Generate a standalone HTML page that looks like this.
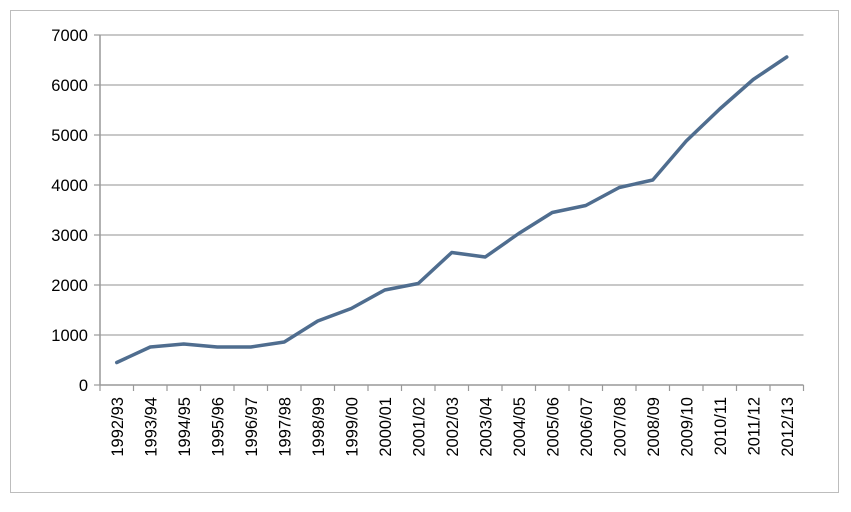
<!DOCTYPE html>
<html><head><meta charset="utf-8"><style>
body{margin:0;background:#fff;font-family:"Liberation Sans",sans-serif}
</style></head><body>
<svg id="c" width="851" height="507" xmlns="http://www.w3.org/2000/svg">
<rect x="10.5" y="10.5" width="828" height="482" fill="#fff" stroke="#bdbdbd"/>
</svg>
<script>
const categories=["1992/93","1993/94","1994/95","1995/96","1996/97","1997/98","1998/99","1999/00","2000/01","2001/02","2002/03","2003/04","2004/05","2005/06","2006/07","2007/08","2008/09","2009/10","2010/11","2011/12","2012/13"];
const values=[450,760,820,760,760,860,1280,1530,1900,2030,2650,2560,3030,3450,3590,3950,4100,4880,5520,6110,6560];
const yTicks=[0,1000,2000,3000,4000,5000,6000,7000];
const svg=document.getElementById('c');
const NS="http://www.w3.org/2000/svg";
const x0=100,x1=803.5,y0=385,y1=35,ymax=7000;
const band=(x1-x0)/categories.length;
const xs=i=>x0+band*(i+0.5);
const ys=v=>y0-(v/ymax)*(y0-y1);
function mk(t,a){const e=document.createElementNS(NS,t);for(const k in a)e.setAttribute(k,a[k]);svg.appendChild(e);return e;}
yTicks.forEach(t=>{
 const y=ys(t);
 if(t>0){const g=mk('line',{x1:x0,x2:x1,y1:y,y2:y,stroke:'#b5b5b5','stroke-width':1.5});
 
 }
 const tk=mk('line',{x1:x0-6,x2:x0,y1:y,y2:y,stroke:'#999','stroke-width':1.2});
 
 
 const l=mk('text',{x:x0-12,y:y+6,'text-anchor':'end','font-size':16.5,fill:'#000'});
 l.textContent=t;
 
 
});
const ya=mk('line',{x1:x0,x2:x0,y1:y1,y2:y0,stroke:'#999','stroke-width':1.5});


const xa=mk('line',{x1:x0,x2:x1,y1:y0,y2:y0,stroke:'#999','stroke-width':1.5});


for(let i=0;i<=categories.length;i++){
 const x=x0+band*i;
 const t=mk('line',{x1:x,x2:x,y1:y0,y2:y0+6,stroke:'#999','stroke-width':1.2});
 
 
}
categories.forEach((c,i)=>{
 const x=xs(i)+6,y=y0+12;
 const l=mk('text',{x:x,y:y,'text-anchor':'end','font-size':16.5,fill:'#000',transform:`rotate(-90 ${x} ${y})`});
 l.textContent=c;
 
 
});
const p=mk('polyline',{points:values.map((v,i)=>xs(i)+','+ys(v)).join(' '),fill:'none',stroke:'#4f6d8f','stroke-width':3.5,'stroke-linejoin':'round','stroke-linecap':'round'});


</script>
</body></html>
